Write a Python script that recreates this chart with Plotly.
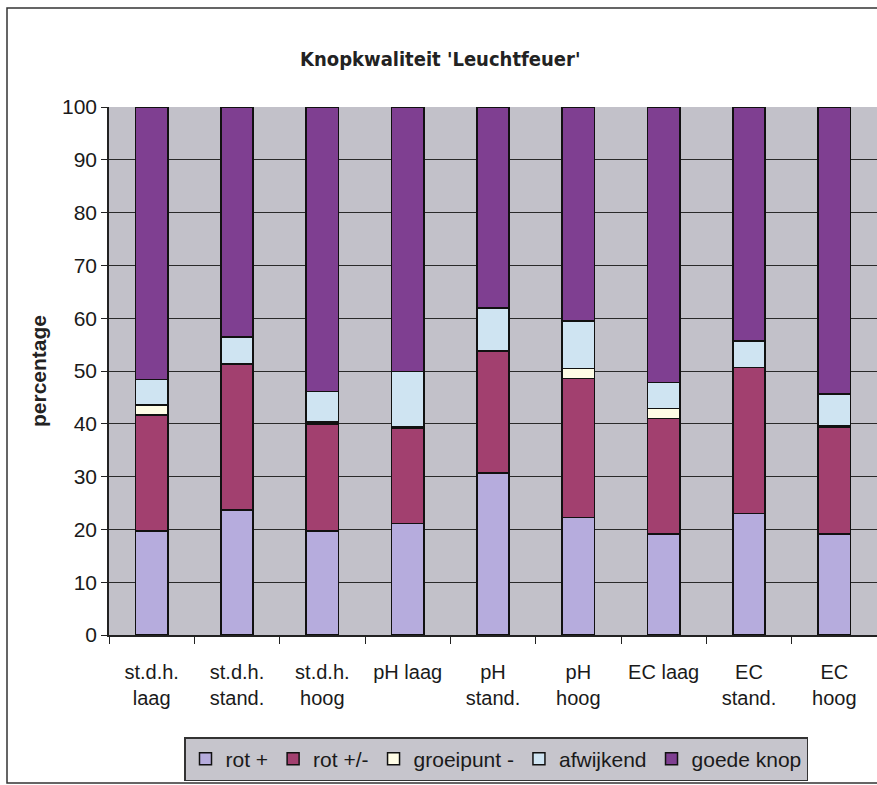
import plotly.graph_objects as go

categories = ["st.d.h.<br>laag", "st.d.h.<br>stand.", "st.d.h.<br>hoog", "pH laag",
              "pH<br>stand.", "pH<br>hoog", "EC laag", "EC<br>stand.", "EC<br>hoog"]

rot_plus = [19.7, 23.7, 19.7, 21.1, 30.7, 22.3, 19.1, 23.0, 19.1]
rot_plusmin = [22.0, 27.6, 20.3, 18.0, 23.1, 26.3, 21.9, 27.7, 20.2]
groeipunt = [1.9, 0.0, 0.3, 0.3, 0.0, 1.9, 1.9, 0.0, 0.3]
afwijkend = [4.8, 5.1, 5.8, 10.5, 8.1, 9.0, 4.9, 5.0, 6.0]
goede_knop = [51.6, 43.6, 53.9, 50.1, 38.1, 40.5, 52.2, 44.3, 54.4]

series = [
    ("rot +", rot_plus, "#B6ACDD"),
    ("rot +/-", rot_plusmin, "#A2406F"),
    ("groeipunt -", groeipunt, "#FFFDE6"),
    ("afwijkend", afwijkend, "#CFE4F2"),
    ("goede knop", goede_knop, "#7F3F91"),
]

y_ticks = list(range(0, 101, 10))

fig = go.Figure()
for name, vals, col in series:
    fig.add_trace(go.Bar(
        x=categories, y=vals, name=name,
        marker=dict(color=col, line=dict(color="#111111", width=1.5)),
    ))

W, H = 877, 785
L, R, T, B = 109, 0, 107, 150
pw, ph = W - L - R, H - T - B

fig.update_layout(
    width=W, height=H,
    barmode="stack", bargap=0.62,
    margin=dict(l=L, r=R, t=T, b=B),
    paper_bgcolor="white",
    plot_bgcolor="#C2C1C9",
    font=dict(family="Liberation Sans, Arial, sans-serif", color="#1a1a1a"),
    title=dict(
        text="<b>Knopkwaliteit 'Leuchtfeuer'</b>",
        x=0.502, xanchor="center", xref="container",
        y=1 - 59 / H, yanchor="middle", yref="container",
        font=dict(family="DejaVu Sans Condensed, Liberation Sans, Arial", size=20, color="#222222"),
    ),
    xaxis=dict(
        type="category",
        showgrid=False,
        showline=True, linecolor="#222222", linewidth=1.5,
        ticks="outside", tickson="boundaries", ticklen=7, tickcolor="#222222",
        tickfont=dict(size=20, color="#1a1a1a"),
        ticklabelstandoff=18,
    ),
    yaxis=dict(
        range=[0, 100],
        tickvals=y_ticks,
        showgrid=True, gridcolor="#2a2a2a", gridwidth=1.3,
        showline=True, linecolor="#222222", linewidth=1.5,
        ticks="outside", ticklen=6, tickcolor="#222222",
        tickfont=dict(size=21, color="#1a1a1a"),
        title=dict(text="<b>percentage</b>", font=dict(size=21, color="#222222"), standoff=10),
        zeroline=False,
    ),
    legend=dict(
        orientation="h",
        x=(496 - L) / pw, xanchor="center",
        y=-(759 - (T + ph)) / ph, yanchor="middle",
        bgcolor="#C6C5CC", bordercolor="#333333", borderwidth=1.5,
        font=dict(size=21, color="#1a1a1a"),
        traceorder="normal",
        itemwidth=30,
    ),
    showlegend=True,
)

# outer chart frame
fig.add_shape(
    type="rect", xref="paper", yref="paper",
    x0=(7 - L) / pw, x1=1.02,
    y0=-(783 - (T + ph)) / ph, y1=((T + ph) - 8) / ph,
    line=dict(color="#333333", width=1.5), fillcolor="rgba(0,0,0,0)", layer="below",
)

fig.write_html("out.html", config={"displayModeBar": False},
               post_script="document.body.style.margin='0';")
